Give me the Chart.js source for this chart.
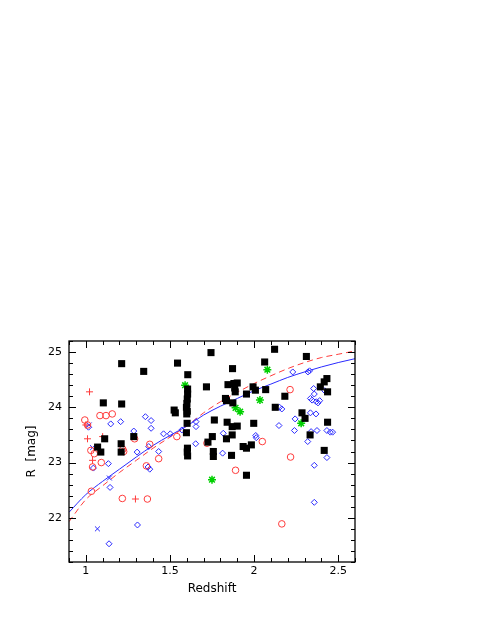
<!DOCTYPE html>
<html><head><meta charset="utf-8">
<script src="https://cdn.jsdelivr.net/npm/chart.js@4"></script>
<style>html,body{margin:0;padding:0;background:#fff}canvas{display:block}</style>
</head><body>
<canvas id="c" width="480" height="621" style="width:480px;height:621px"></canvas>
<script>
const xTickLabels = [1, 1.5, 2, 2.5];
const yTickLabels = [22, 23, 24, 25];

const blackSquares = [
[1.213,24.79],[1.344,24.65],[1.545,24.80],[1.744,24.99],[1.606,24.59],[1.872,24.70],[2.063,24.82],[2.122,25.05],[2.311,24.92],
[1.104,24.08],[1.213,24.06],[1.525,23.95],[1.532,23.90],
[1.605,24.33],[1.605,24.24],[1.603,24.15],[1.601,24.07],[1.598,24.00],[1.603,23.93],[1.600,23.88],[1.602,23.71],[1.598,23.54],[1.604,23.26],[1.603,23.19],[1.605,23.12],
[1.717,24.37],[1.764,23.77],[1.752,23.47],[1.726,23.37],[1.758,23.20],[1.758,23.11],
[1.845,24.41],[1.880,24.43],[1.900,24.44],[1.885,24.35],[1.888,24.28],[1.830,24.16],[1.836,24.12],[1.874,24.08],
[1.840,23.73],[1.870,23.65],[1.900,23.66],[1.836,23.43],[1.870,23.50],[1.866,23.13],
[1.935,23.29],[1.955,23.26],[1.984,23.32],[1.955,22.77],[1.955,24.24],[1.994,24.37],[2.008,24.31],[1.998,23.71],
[2.069,24.32],[2.183,24.20],[2.126,24.00],[2.285,23.90],[2.303,23.80],[2.333,23.50],[2.417,23.22],
[2.394,24.37],[2.417,24.46],[2.433,24.52],[2.437,24.28],[2.437,23.73],
[1.070,23.28],[1.089,23.19],[1.112,23.43],[1.210,23.34],[1.210,23.19],[1.285,23.47]
];
const greenStars = [[1.59,24.40],[2.079,24.68],[1.89,23.99],[1.917,23.92],[2.035,24.13],[2.28,23.71],[1.75,22.69]];
const redCircles = [
[0.994,23.77],[1.01,23.68],[1.084,23.85],[1.12,23.85],[1.157,23.88],[1.03,23.22],[1.05,23.16],[1.092,23.00],[1.04,22.92],
[1.033,22.48],[1.217,22.35],[1.22,23.24],[1.225,23.20],[1.29,23.43],[1.38,23.33],[1.36,22.94],[1.366,22.34],[1.433,23.07],
[1.541,23.47],[1.72,23.35],[1.89,22.86],[2.049,23.38],[2.214,24.32],[2.217,23.10],[2.165,21.89]
];
const redPluses = [[1.022,24.28],[1.0,23.68],[1.01,23.43],[1.1,23.47],[1.04,23.04],[1.295,22.34]];
const blueCrosses = [[1.02,23.68],[1.04,23.27],[1.14,22.72],[1.069,21.80]];
const blueDiamonds = [
[1.016,23.64],[1.045,22.90],[1.148,23.70],[1.207,23.74],[1.134,22.98],[1.144,22.55],[1.138,21.53],[1.285,23.57],[1.305,23.19],
[1.354,23.83],[1.388,23.76],[1.388,23.62],[1.374,23.29],[1.37,22.92],[1.38,22.88],[1.307,21.87],[1.433,23.20],[1.462,23.52],
[1.502,23.52],[1.571,23.59],[1.655,23.74],[1.655,23.65],[1.653,23.34],[1.817,23.53],[1.813,23.17],[2.01,23.49],[2.013,23.45],
[2.148,23.67],[2.152,24.00],[2.165,23.97],[2.23,24.64],[2.244,23.79],[2.24,23.58],[2.32,24.64],[2.33,24.66],[2.354,24.34],
[2.358,24.24],[2.335,24.16],[2.345,24.13],[2.37,24.10],[2.38,24.08],[2.39,24.12],[2.335,23.90],[2.368,23.88],[2.339,23.56],
[2.374,23.58],[2.433,23.58],[2.453,23.55],[2.467,23.55],[2.319,23.38],[2.433,23.09],[2.358,22.95],[2.358,22.28],[2.42,24.30]
];
const curveX = [0.9,1.0,1.1,1.2,1.3,1.4,1.5,1.6,1.7,1.8,1.9,2.0,2.1,2.2,2.3,2.4,2.5,2.6];
const blueCurve = [22.10,22.42,22.66,22.88,23.10,23.31,23.49,23.66,23.86,24.02,24.16,24.30,24.42,24.54,24.64,24.73,24.81,24.88];
const redCurve  = [21.93,22.33,22.58,22.82,23.04,23.26,23.46,23.66,23.90,24.10,24.27,24.43,24.57,24.70,24.81,24.90,24.96,25.02];

const pts = a => a.map(p => ({x:p[0], y:p[1]}));
const line = ys => curveX.map((x,i) => ({x, y:ys[i]}));

const BLUE = '#2a2aff', RED = '#ff3b3b', GREEN = '#00d000';

const frameTicks = {
  id:'frameTicks',
  afterDraw(chart){
    const {ctx, chartArea:a, scales:{x, y}} = chart;
    ctx.save();
    ctx.strokeStyle = '#000'; ctx.lineWidth = 1.3;
    ctx.strokeRect(a.left, a.top, a.right-a.left, a.bottom-a.top);
    ctx.lineWidth = 1;
    ctx.beginPath();
    for (let i = 9; i <= 26; i++) {
      const v = i/10, px = Math.round(x.getPixelForValue(v)) + 0.5;
      const len = (i % 5 === 0) ? 7 : 4;
      ctx.moveTo(px, a.bottom); ctx.lineTo(px, a.bottom - len);
      ctx.moveTo(px, a.top); ctx.lineTo(px, a.top + len);
    }
    for (let i = 106; i <= 126; i++) {
      const v = i/5, py = Math.round(y.getPixelForValue(v)) + 0.5;
      const len = (i % 5 === 0) ? 7 : 4;
      ctx.moveTo(a.left, py); ctx.lineTo(a.left + len, py);
      ctx.moveTo(a.right, py); ctx.lineTo(a.right - len, py);
    }
    ctx.stroke();
    ctx.restore();
  }
};

const titleFont = {family:'DejaVu Sans', size:12};
const tickFont = {family:'DejaVu Sans', size:11};
new Chart(document.getElementById('c'), {
  type:'scatter',
  data:{datasets:[
    {data:line(blueCurve), showLine:true, borderColor:BLUE, borderWidth:1, pointRadius:0, cubicInterpolationMode:'monotone', order:1},
    {data:line(redCurve), showLine:true, borderColor:RED, borderWidth:1, borderDash:[6,4], pointRadius:0, cubicInterpolationMode:'monotone', order:1},
    {data:pts(blackSquares), pointStyle:'rect', pointRadius:5, backgroundColor:'#000', borderColor:'#000', borderWidth:0},
    {data:pts(redCircles), pointStyle:'circle', pointRadius:3.3, backgroundColor:'rgba(0,0,0,0)', borderColor:RED, borderWidth:1},
    {data:pts(redPluses), pointStyle:'cross', pointRadius:3.5, borderColor:RED, borderWidth:1},
    {data:pts(blueDiamonds), pointStyle:'rectRot', pointRadius:3, backgroundColor:'rgba(0,0,0,0)', borderColor:BLUE, borderWidth:1},
    {data:pts(blueCrosses), pointStyle:'crossRot', pointRadius:3.5, borderColor:BLUE, borderWidth:1},
    {data:pts(greenStars), pointStyle:'star', pointRadius:4, borderColor:GREEN, borderWidth:1.5}
  ]},
  options:{
    responsive:false, animation:false,
    layout:{padding:{top:341, right:125, left:0, bottom:0}},
    plugins:{legend:{display:false}, tooltip:{enabled:false}},
    scales:{
      x:{type:'linear', min:0.9, max:2.6,
        grid:{display:false, drawTicks:false}, border:{display:false},
        afterBuildTicks:s=>{s.ticks = xTickLabels.map(v=>({value:v}));},
        afterFit:s=>{s.height = 59;},
        ticks:{color:'#000', font:tickFont, padding:3, maxRotation:0, callback:v=>String(v)},
        title:{display:true, text:'Redshift', color:'#000', font:titleFont, padding:{top:0,bottom:25}}
      },
      y:{type:'linear', min:21.2, max:25.2,
        grid:{display:false, drawTicks:false}, border:{display:false},
        afterBuildTicks:s=>{s.ticks = yTickLabels.map(v=>({value:v}));},
        afterFit:s=>{s.width = 69;},
        ticks:{color:'#000', font:tickFont, padding:7, callback:v=>String(v)},
        title:{display:true, text:'R  [mag]', color:'#000', font:titleFont, padding:{top:25,bottom:0}}
      }
    }
  },
  plugins:[frameTicks]
});
</script>
</body></html>
